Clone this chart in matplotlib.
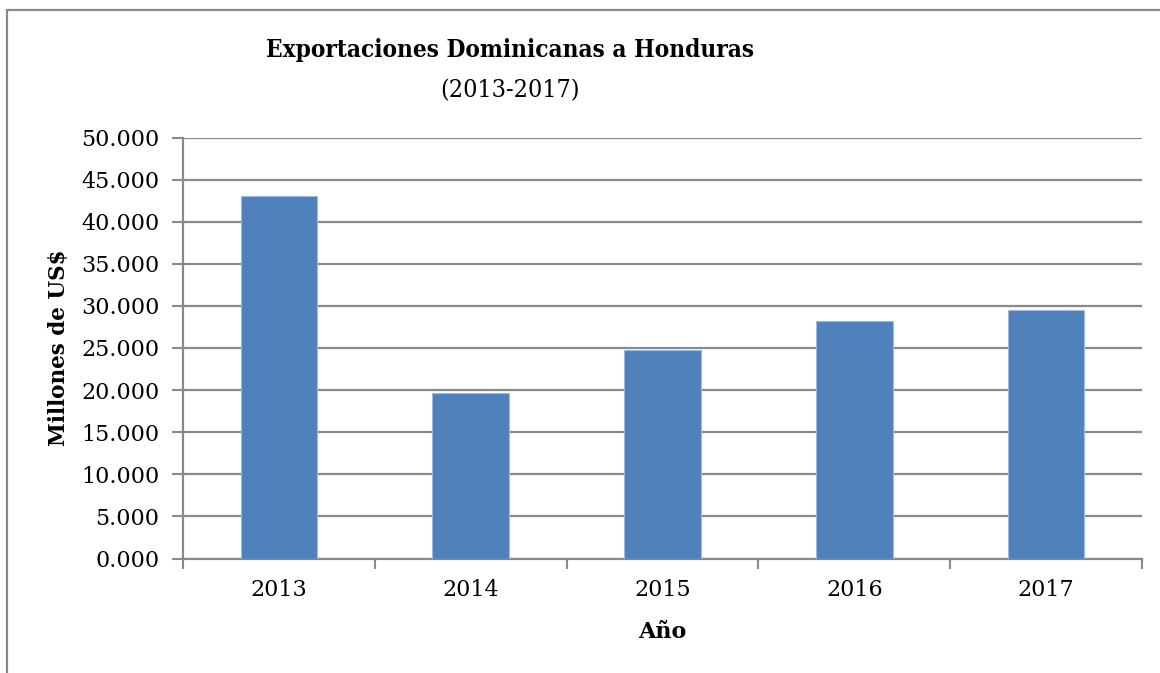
import matplotlib
matplotlib.use("Agg")
import matplotlib.pyplot as plt
from matplotlib.patches import Rectangle

years = ["2013", "2014", "2015", "2016", "2017"]
values = [43.05, 19.62, 24.76, 28.17, 29.55]
yticks = [0, 5, 10, 15, 20, 25, 30, 35, 40, 45, 50]
ytick_labels = ["0.000", "5.000", "10.000", "15.000", "20.000", "25.000",
                "30.000", "35.000", "40.000", "45.000", "50.000"]

W, H = 1160, 673
fig = plt.figure(figsize=(W / 100, H / 100), dpi=100)
FONT = "DejaVu Serif"
GRID = "#898989"

fig.patches.append(Rectangle((7 / W, -0.05), 1.2, (H - 10) / H + 0.05,
                             transform=fig.transFigure, fill=False,
                             edgecolor=GRID, linewidth=1.6))

ax = fig.add_axes([183 / W, (H - 558.5) / H, (1142 - 183) / W, 421 / H])
x = list(range(len(years)))
ax.bar(x, values, width=0.4, color="#4F81BD", edgecolor="#9DB9DE", linewidth=0.8, zorder=3)
ax.set_xlim(-0.5, len(years) - 0.5)
ax.set_ylim(0, 50)
ax.set_yticks(yticks)
ax.set_yticklabels(ytick_labels, fontfamily=FONT, fontsize=16)
ax.set_xticks(x)
ax.set_xticklabels(years, fontfamily=FONT, fontsize=16)
ax.tick_params(axis="x", length=0, pad=15)
ax.set_xticks([i - 0.5 for i in range(len(years) + 1)], minor=True)
ax.tick_params(axis="x", which="minor", length=7, width=1.5, color=GRID)
ax.tick_params(axis="y", length=8, width=1.5, color=GRID, pad=9)
ax.yaxis.grid(True, color=GRID, linewidth=1.6, zorder=0)
ax.set_axisbelow(True)
for s in ["top", "right"]:
    ax.spines[s].set_visible(False)
for s in ["left", "bottom"]:
    ax.spines[s].set_color(GRID)
    ax.spines[s].set_linewidth(1.6)

ax.set_ylabel("Millones de US$", fontfamily=FONT, fontsize=15.5, fontweight="bold", labelpad=8)
ax.set_xlabel("Año", fontfamily=FONT, fontsize=16, fontweight="bold", labelpad=14)

fig.text(510 / W, 1 - 50 / H, "Exportaciones Dominicanas a Honduras", ha="center", va="center",
         fontfamily=FONT, fontsize=17.5, fontweight="bold", fontstretch="condensed")
fig.text(510 / W, 1 - 91 / H, "(2013-2017)", ha="center", va="center",
         fontfamily=FONT, fontsize=18, fontstretch="condensed")

fig.savefig("out.png", dpi=100)
